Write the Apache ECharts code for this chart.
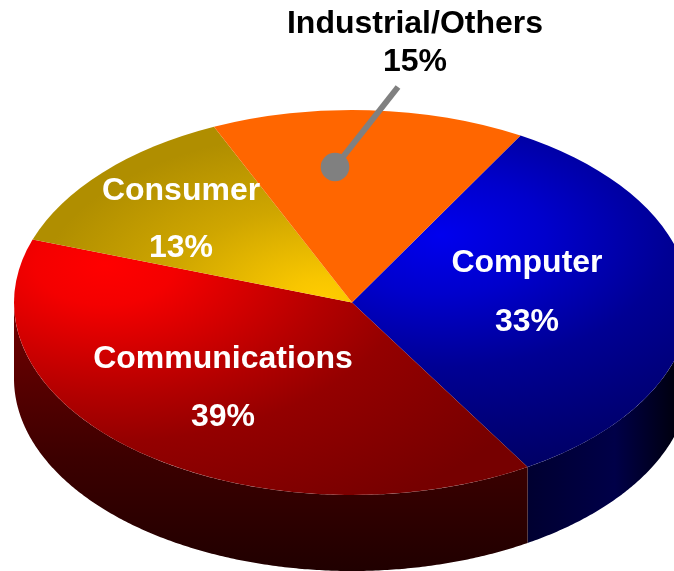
<!DOCTYPE html>
<html>
<head>
<meta charset="utf-8">
<style>
  html, body { margin: 0; padding: 0; background: #ffffff; overflow: hidden; }
  #chart { width: 674px; height: 571px; }
</style>
<script src="https://cdn.jsdelivr.net/npm/echarts@6/dist/echarts.min.js"></script>
</head>
<body>
<div id="chart"></div>
<script>
const categories = ["Computer", "Communications", "Consumer", "Industrial/Others"];
const shares = [33, 39, 13, 15];

// pie geometry, the ellipse is a circle squashed by scaleY
const cx = 352, cy = 302.5, rx = 338, ry = 192.5, depth = 76;
const squash = ry / rx;
const startDeg = 29.9; // clockwise from 12 o'clock

// screen position -> unsquashed space, for the gradients
const gy = y => cy + (y - cy) / squash;
const radial = (x, y, r, stops) => ({
  type: "radial", x: x, y: gy(y), r: r, global: true,
  colorStops: stops.map(s => ({ offset: s[0], color: s[1] }))
});
const linear = (x, y, x2, y2, stops) => ({
  type: "linear", x: x, y: y, x2: x2, y2: y2, global: true,
  colorStops: stops.map(s => ({ offset: s[0], color: s[1] }))
});

const topFills = [
  radial(440, 235, 420, [[0, "#0000ee"], [0.25, "#0000cc"], [0.55, "#000094"], [1, "#000064"]]),
  radial(105, 265, 500, [[0, "#ff0000"], [0.14, "#f40000"], [0.46, "#b20000"], [0.62, "#940000"], [1, "#760000"]]),
  radial(325, 298, 290, [[0, "#ffcc00"], [0.12, "#f8c600"], [0.55, "#cfa600"], [1, "#b08e00"]]),
  "#ff6600"
];
const wallFills = [
  linear(526, 0, 674, 0, [[0, "#000030"], [0.6, "#000048"], [1, "#000010"]]),
  linear(0, 320, 0, 571, [[0, "#6e0000"], [0.55, "#3c0000"], [1, "#200000"]]),
  "#000000",
  "#000000"
];

const labelFont = "bold 32px 'Liberation Sans', Arial, sans-serif";
const labelAt = {
  "Computer": [527, 263, 322],
  "Communications": [223, 359, 417],
  "Consumer": [181, 191, 248],
  "Industrial/Others": [415, 24, 62]
};

function sliceRange(index) {
  let from = startDeg;
  for (let i = 0; i < index; i++) from += shares[i] * 3.6;
  return [from, from + shares[index] * 3.6];
}

function rim(deg, drop) {
  const a = deg * Math.PI / 180;
  return [cx + rx * Math.sin(a), cy - ry * Math.cos(a) + drop];
}

function renderWall(params) {
  const range = sliceRange(params.dataIndex);
  // only the front half of the rim shows
  const from = Math.max(range[0], 90), to = Math.min(range[1], 270);
  if (to <= from) return null;
  const pts = [];
  for (let d = from; d < to; d += 0.5) pts.push(rim(d, 0));
  pts.push(rim(to, 0), rim(to, depth));
  for (let d = to; d > from; d -= 0.5) pts.push(rim(d, depth));
  pts.push(rim(from, depth));
  return { type: "polygon", shape: { points: pts }, style: { fill: wallFills[params.dataIndex] } };
}

function renderTop(params) {
  const range = sliceRange(params.dataIndex);
  return {
    type: "sector",
    originX: cx,
    originY: cy,
    scaleY: squash,
    shape: {
      cx: cx, cy: cy, r0: 0, r: rx,
      startAngle: (range[0] - 90) * Math.PI / 180,
      endAngle: (range[1] - 90) * Math.PI / 180,
      clockwise: true
    },
    style: { fill: topFills[params.dataIndex] }
  };
}

function renderLabel(params, api) {
  const name = categories[params.dataIndex];
  const at = labelAt[name];
  const color = name === "Industrial/Others" ? "#000000" : "#ffffff";
  const text = (t, y) => ({
    type: "text",
    style: { x: at[0], y: y, text: t, fill: color, font: labelFont, align: "center", verticalAlign: "middle" }
  });
  return { type: "group", children: [text(name, at[1]), text(api.value(0) + "%", at[2])] };
}

const chart = echarts.init(document.getElementById("chart"), null, { renderer: "canvas" });
chart.setOption({
  animation: false,
  backgroundColor: "#ffffff",
  series: [
    { type: "custom", coordinateSystem: "none", silent: true, z: 1, data: shares, renderItem: renderWall },
    { type: "custom", coordinateSystem: "none", silent: true, z: 2, data: shares, renderItem: renderTop },
    { type: "custom", coordinateSystem: "none", silent: true, z: 4, data: shares, renderItem: renderLabel }
  ],
  // leader line from the Industrial/Others label
  graphic: [
    { type: "line", z: 3, shape: { x1: 398, y1: 87, x2: 335, y2: 167 }, style: { stroke: "#808080", lineWidth: 6 } },
    { type: "circle", z: 3, shape: { cx: 335, cy: 167, r: 14.3 }, style: { fill: "#808080" } }
  ]
});
</script>
</body>
</html>
